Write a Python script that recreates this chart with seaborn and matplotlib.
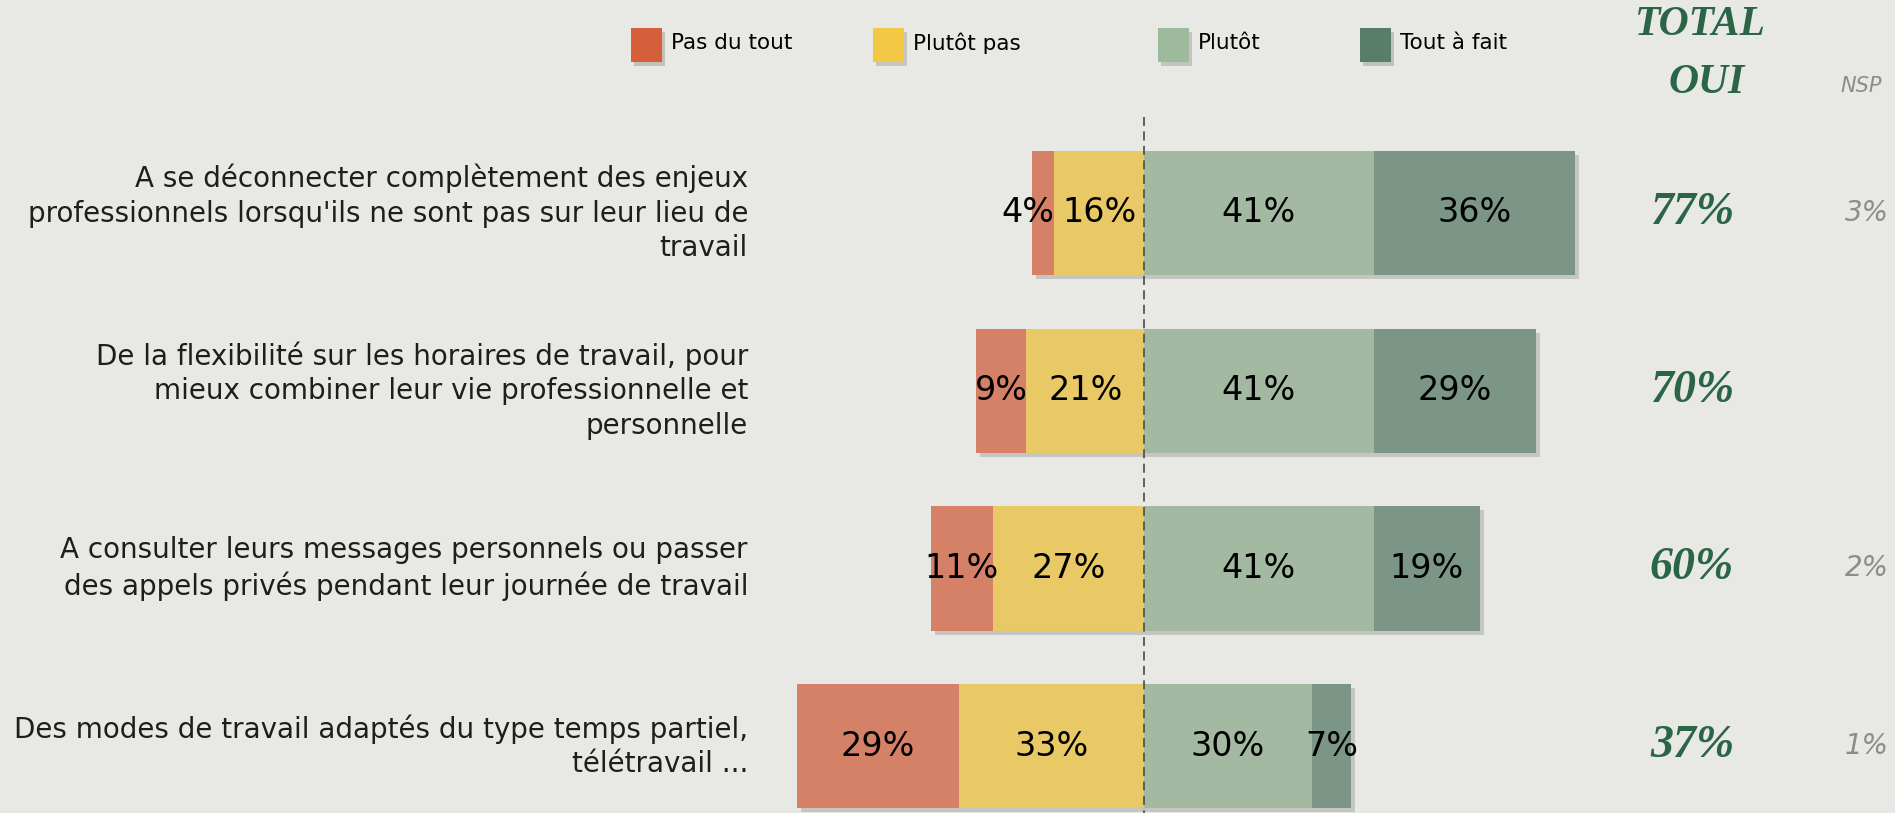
import matplotlib
matplotlib.use("Agg")
import matplotlib.pyplot as plt
import matplotlib.patheffects as pe
from matplotlib.patches import Rectangle
from matplotlib import font_manager
import seaborn as sns
import pandas as pd

# Données
questions = [
    "A se déconnecter complètement des enjeux\nprofessionnels lorsqu'ils ne sont pas sur leur lieu de\ntravail",
    "De la flexibilité sur les horaires de travail, pour\nmieux combiner leur vie professionnelle et\npersonnelle",
    "A consulter leurs messages personnels ou passer\ndes appels privés pendant leur journée de travail",
    "Des modes de travail adaptés du type temps partiel,\ntélétravail ...",
]
pas_du_tout = [4, 9, 11, 29]
plutot_pas = [16, 21, 27, 33]
plutot = [41, 41, 41, 30]
tout_a_fait = [36, 29, 19, 7]
total_oui = [77, 70, 60, 37]
nsp = [3, 0, 2, 1]
legend_labels = ["Pas du tout", "Plutôt pas", "Plutôt", "Tout à fait"]

# Style
BG = "#e8e8e4"
bar_colors = ["#d48168", "#e9c866", "#a3b9a2", "#7b9586"]
legend_colors = ["#d45f3a", "#f2c845", "#9dbb9c", "#5a7d6b"]
GREEN_TXT = "#2a6548"
W, H = 1895, 813
ZERO_PX, PX_PER_PCT = 1144, 5.6
ROW_PX, ROW0_PX = 177.7, 213

# police étroite si dispo
names = {f.name for f in font_manager.fontManager.ttflist}
if "Liberation Sans Narrow" in names:
    NARROW, NARROW_SIZE = "Liberation Sans Narrow", 33
else:
    NARROW, NARROW_SIZE = "DejaVu Sans", 24

df = pd.DataFrame({
    "question": questions,
    "neg_total": [-(a + b) for a, b in zip(pas_du_tout, plutot_pas)],
    "neg_inner": [-b for b in plutot_pas],
    "pos_total": [c + d for c, d in zip(plutot, tout_a_fait)],
    "pos_inner": plutot,
})

sns.set_theme(style="white")
plt.rcParams["font.family"] = ["DejaVu Sans"]

fig = plt.figure(figsize=(W / 100, H / 100), dpi=100, facecolor=BG)
ax = fig.add_axes([0, 0, 1, 1])

shadow = [pe.SimplePatchShadow(offset=(3, -3), shadow_rgbFace="black", alpha=0.15), pe.Normal()]
layers = [("neg_total", bar_colors[0], True), ("pos_total", bar_colors[3], True),
          ("neg_inner", bar_colors[1], False), ("pos_inner", bar_colors[2], False)]
for col, color, with_shadow in layers:
    n0 = len(ax.patches)
    sns.barplot(data=df, x=col, y="question", orient="h", color=color, saturation=1,
                width=0.7, linewidth=0, errorbar=None, ax=ax)
    if with_shadow:
        for p in ax.patches[n0:]:
            p.set_path_effects(shadow)

# Echelle: pixels -> données
ax.set_xlim(-ZERO_PX / PX_PER_PCT, (W - ZERO_PX) / PX_PER_PCT)
ax.set_ylim((H - ROW0_PX) / ROW_PX, -ROW0_PX / ROW_PX)
ax.axis("off")

# Ligne centrale pointillée
ax.plot([0, 0], [(117 - ROW0_PX) / ROW_PX, (H - ROW0_PX) / ROW_PX], color="#555555",
        lw=1.3, ls=(0, (5, 3)), zorder=5)

# Etiquettes dans les barres
for i in range(len(questions)):
    segs = [(-(pas_du_tout[i] + plutot_pas[i]), pas_du_tout[i]),
            (-plutot_pas[i], plutot_pas[i]),
            (0, plutot[i]),
            (plutot[i], tout_a_fait[i])]
    for k, (start, v) in enumerate(segs):
        if k == 0 and v < 6:
            # petit segment : texte calé sur le bord droit
            xpos, ha = start + v, "right"
        else:
            xpos, ha = start + v / 2, "center"
        ax.text(xpos, i, f"{v}%", ha=ha, va="center", fontsize=NARROW_SIZE,
                family=NARROW, color="black", zorder=6)
    ax.text((748 - ZERO_PX) / PX_PER_PCT, i, questions[i], ha="right", va="center",
            fontsize=20, color="#1e1e1e", linespacing=1.3)
    ax.text((1692 - ZERO_PX) / PX_PER_PCT, i, f"{total_oui[i]}%", ha="center", va="center",
            fontsize=33, color=GREEN_TXT, family="Liberation Serif", fontweight="bold",
            fontstyle="italic")
    if nsp[i]:
        ax.text((1867 - ZERO_PX) / PX_PER_PCT, i, f"{nsp[i]}%", ha="center", va="center",
                fontsize=20, color="#8c8c8c", fontstyle="italic")

# En-têtes
fig.text(1700 / W, 1 - 25 / H, "TOTAL", ha="center", va="center", fontsize=30,
         color=GREEN_TXT, family="Liberation Serif", fontweight="bold", fontstyle="italic")
fig.text(1707 / W, 1 - 83 / H, "OUI", ha="center", va="center", fontsize=30,
         color=GREEN_TXT, family="Liberation Serif", fontweight="bold", fontstyle="italic")
fig.text(1861 / W, 1 - 86 / H, "NSP", ha="center", va="center", fontsize=15,
         color="#8c8c8c", fontstyle="italic")

# Légende
legend_px = [631, 873, 1158, 1360]
for lx, lab, col in zip(legend_px, legend_labels, legend_colors):
    r = Rectangle((lx / W, 1 - 62 / H), 31 / W, 34 / H, transform=fig.transFigure,
                  facecolor=col, edgecolor="none")
    r.set_path_effects([pe.SimplePatchShadow(offset=(2, -3), alpha=0.2), pe.Normal()])
    fig.add_artist(r)
    fig.text((lx + 40) / W, 1 - 43 / H, lab, ha="left", va="center", fontsize=15.5,
             color="black")

plt.savefig("out.png", dpi=100, facecolor=fig.get_facecolor())
